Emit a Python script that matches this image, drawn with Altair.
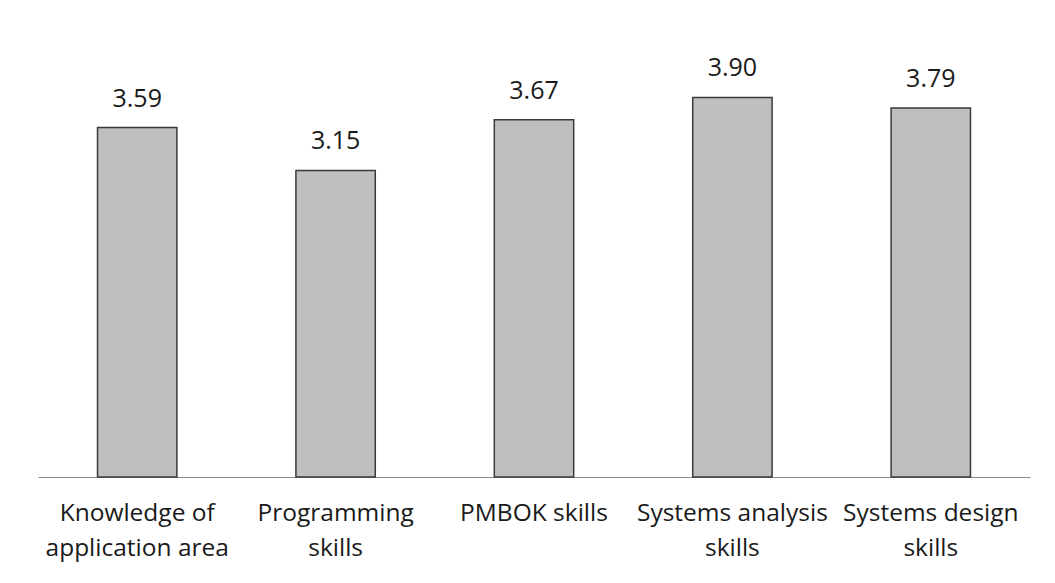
import altair as alt
import pandas as pd

categories = ["Knowledge of|application area", "Programming|skills", "PMBOK skills",
              "Systems analysis|skills", "Systems design|skills"]
values = [3.59, 3.15, 3.67, 3.90, 3.79]

df = pd.DataFrame({"cat": categories, "val": values})

FONT = "Open Sans"

x = alt.X("cat:N", sort=categories, title=None,
          scale=alt.Scale(paddingInner=0.6, paddingOuter=0.3),
          axis=alt.Axis(labelExpr="split(datum.label, '|')", labelAngle=0,
                        labelFont=FONT, labelFontSize=24.5, labelColor="#1a1a1a",
                        labelLineHeight=35, labelPadding=24, ticks=False,
                        domainColor="#8c8c8c", domainWidth=1.2, labelLimit=300))
y = alt.Y("val:Q", title=None, scale=alt.Scale(domain=[0, 4.5], nice=False),
          axis=None)

bars = alt.Chart(df).mark_bar(color="#bfbfbf", stroke="#3a3a3a", strokeWidth=1.5).encode(x=x, y=y)
text = alt.Chart(df).mark_text(baseline="alphabetic", dy=-21, font=FONT, fontSize=25,
                               color="#1a1a1a").encode(
    x=alt.X("cat:N", sort=categories), y="val:Q", text=alt.Text("val:Q", format=".2f"))

chart = (bars + text).properties(
    width=992, height=438,
    background="white",
    autosize=alt.AutoSizeParams(type="none"),
    padding={"left": 38, "top": 39, "right": 25, "bottom": 106},
).configure_view(stroke=None)

chart.save("out.html", embed_options={"renderer": "svg", "actions": False})
